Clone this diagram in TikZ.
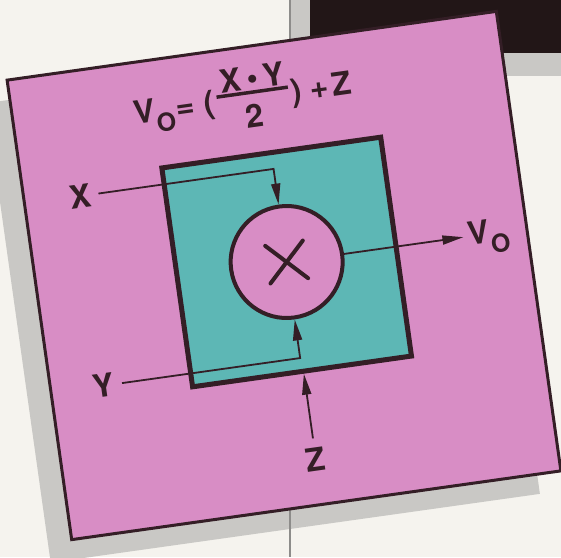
\documentclass[tikz,border=0pt]{standalone}
\usepackage{fontspec}
\setmainfont{TeX Gyre Heros}
\usetikzlibrary{arrows.meta}
\definecolor{paper}{RGB}{245,243,238}
\definecolor{shadowgray}{RGB}{201,200,197}
\definecolor{padblack}{RGB}{34,22,23}
\definecolor{cardpink}{RGB}{216,141,197}
\definecolor{coreteal}{RGB}{93,183,181}
\definecolor{ink}{RGB}{52,30,38}
\newcommand{\vout}{V\raisebox{-11pt}{\fontsize{25}{25}\selectfont O}}

\begin{document}
\begin{tikzpicture}[x=1pt, y=1pt,
                    lbl/.style={font=\fontsize{32}{36}\selectfont\bfseries, text=ink, inner sep=0pt, outer sep=0pt},
                    tag/.style={lbl, outer sep=8pt},
                    wire/.style={draw=ink, line width=1.8pt},
                    tip/.style={-{Triangle[length=21pt, width=9pt]}}]
                        \useasboundingbox (0,0) rectangle (561,-557);
                        \fill[paper] (0,0) rectangle (561,-557);
                        \fill[shadowgray] (290,0) rectangle (561,-76);
                        \fill[padblack] (310,0) rectangle (561,-53);
                        \begin{scope}[shift={(263,-298.5)}, rotate=8]
                            \fill[shadowgray] (-247,-232) rectangle (247,232);
                        \end{scope}
                        \draw[shadowgray!70!black, line width=1.3pt] (290,0) -- (290,-557);
                        \begin{scope}[shift={(284,-275.5)}, rotate=8, transform shape]
                            \filldraw[fill=cardpink, draw=ink, line width=3pt] (-247,-232) rectangle (247,232);
                            \node[draw=ink, fill=coreteal, line width=5pt, minimum size=221pt] (core) at (4.5,13) {};
                            \node[circle, draw=ink, fill=cardpink, line width=4pt, minimum size=112pt] (mul) at (4.5,13) {};
                            \draw[ink, line width=4pt, line cap=round] ([shift={(-19,-19)}]mul.center) -- ([shift={(19,19)}]mul.center)
                                                                   ([shift={(-19,19)}]mul.center) -- ([shift={(19,-19)}]mul.center);
                            \node[tag] (xin) at (-191,107) {X};
                            \node[tag] (yin) at (-194,-84) {Y};
                            \node[tag, outer sep=10pt] (zin) at (6,-187) {Z};
                            \node[tag, anchor=base west, outer sep=5pt] (vo) at (183,4) {\vout};
                            \draw[wire, tip] (xin.east) -| (mul.north);
                            \draw[wire, tip] (yin.east) -| (mul.south);
                            \draw[wire, tip] (zin.north) -- (zin.north |- core.south);
                            \draw[wire, tip] (mul.east) -- (mul.east -| vo.west);
                            \node[lbl, anchor=base east] (lhs) at (-45,170) {\vout\kern2pt= (};
                            \node[lbl] (num) at (-4,201) {X\,•\,Y};
                            \node[lbl] (den) at (-7,162) {2};
                            \coordinate (barl) at (-42,186);
                            \coordinate (barr) at (30,186);
                            \draw[ink, line width=3.5pt] (barl) -- (barr);
                            \node[lbl, anchor=base west] (rhs) at (32,170) {)\hspace{9pt}+\hspace{4pt}Z};
                        \end{scope}
                    \end{tikzpicture}
\end{document}
